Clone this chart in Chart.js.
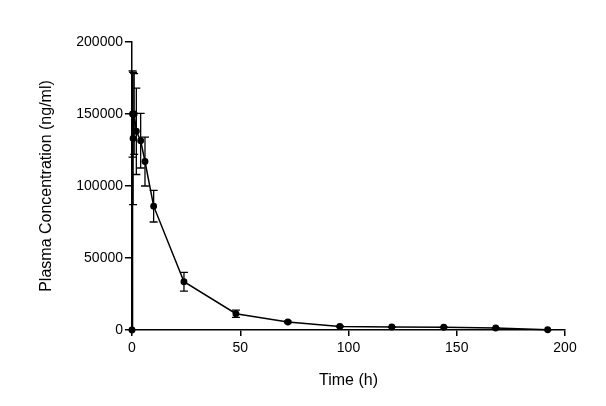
<!DOCTYPE html>
<html>
<head>
<meta charset="utf-8">
<script src="https://cdn.jsdelivr.net/npm/chart.js@4/dist/chart.umd.min.js"></script>
<style>
  html, body { margin: 0; padding: 0; background: #fff; }
  #wrap { width: 606px; height: 406px; }
</style>
</head>
<body>
<div id="wrap"><canvas id="graph"></canvas></div>
<script>
// Sampling times (h)
const times = [0, 0.25, 0.5, 1, 2, 4, 6, 10, 24, 48, 72, 96, 120, 144, 168, 192];
// Mean plasma concentration (ng/ml)
const conc = [0, 150000, 133000, 150000, 138000, 131500, 117000, 86000, 33500, 11300, 5600, 2500, 2100, 1900, 1400, 200];
// Error (+/-)
const errs = [0, 30000, 46000, 28000, 30000, 19000, 17000, 11000, 6500, 2500, 600, 300, 200, 200, 200, 100];

const xTicks = [0, 50, 100, 150, 200];
const yTicks = [0, 50000, 100000, 150000, 200000];

// draw error bars with the chart's own scales
const errorBars = {
    id: "errorBars",
    afterDatasetsDraw(chart) {
        const ctx = chart.ctx;
        const xs = chart.scales.x, ys = chart.scales.y;
        ctx.save();
        ctx.strokeStyle = "#000";
        ctx.lineWidth = 1.3;
        for (let i = 0; i < times.length; i++) {
            if (!errs[i]) continue;
            const px = xs.getPixelForValue(times[i]);
            const top = ys.getPixelForValue(conc[i] + errs[i]);
            const bot = ys.getPixelForValue(conc[i] - errs[i]);
            ctx.beginPath();
            ctx.moveTo(px, top); ctx.lineTo(px, bot);
            ctx.moveTo(px - 4, top); ctx.lineTo(px + 4, top);
            ctx.moveTo(px - 4, bot); ctx.lineTo(px + 4, bot);
            ctx.stroke();
        }
        ctx.restore();
    }
};

const font = { family: "'Liberation Sans', Arial, sans-serif", size: 14 };

new Chart("graph", {
    type: "scatter",
    data: {
        datasets: [{
            data: times.map((t, i) => ({ x: t, y: conc[i] })),
            showLine: true,
            borderColor: "#000",
            backgroundColor: "#000",
            borderWidth: 1.5,
            pointRadius: 2.7,
            pointHoverRadius: 2.7,
            clip: false
        }]
    },
    options: {
        responsive: true,
        maintainAspectRatio: false,
        animation: false,
        layout: { padding: { top: 42, right: 41, left: 0, bottom: 0 } },
        plugins: { legend: { display: false }, tooltip: { enabled: false } },
        scales: {
            x: {
                type: "linear",
                min: 0, max: 200,
                afterBuildTicks: (s) => { s.ticks = xTicks.map(v => ({ value: v })); },
                afterFit: (s) => { s.height = 76; },
                border: { color: "#000", width: 1.5 },
                grid: { drawOnChartArea: false, color: "#000", lineWidth: 1.5, tickLength: 6 },
                ticks: { color: "#000", font: font, padding: 4, maxRotation: 0 },
                title: {
                    display: true, text: "Time (h)", color: "#000",
                    font: { family: font.family, size: 16 },
                    padding: { top: 0, bottom: 16 }
                }
            },
            y: {
                min: 0, max: 200000,
                afterBuildTicks: (s) => { s.ticks = yTicks.map(v => ({ value: v })); },
                afterFit: (s) => { s.width = 132; },
                border: { color: "#000", width: 1.5 },
                grid: { drawOnChartArea: false, color: "#000", lineWidth: 1.5, tickLength: 7 },
                ticks: { color: "#000", font: font, padding: 2, callback: (v) => String(v) },
                title: {
                    display: true, text: "Plasma Concentration (ng/ml)", color: "#000",
                    font: { family: font.family, size: 16 },
                    padding: { top: 37, bottom: 0 }
                }
            }
        }
    },
    plugins: [errorBars]
});
</script>
</body>
</html>
